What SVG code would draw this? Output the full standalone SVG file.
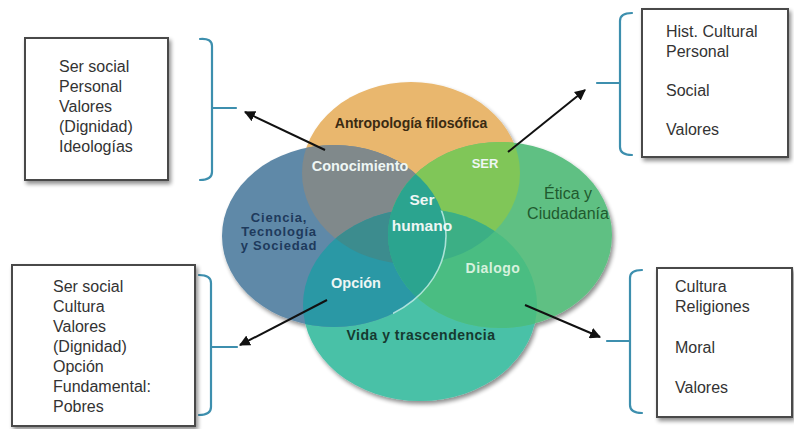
<svg xmlns="http://www.w3.org/2000/svg" width="794" height="429" viewBox="0 0 794 429">
<style>
.box{fill:#fff;stroke:#4a4a4a;stroke-width:2}
.bt{font-family:"Liberation Sans",Arial,sans-serif;font-size:16px;fill:#333}
.br{fill:none;stroke:#3d8fae;stroke-width:2.2;stroke-linecap:round}
.arr{fill:none;stroke:#111;stroke-width:2;marker-end:url(#ah)}
.vl{font-family:"Liberation Sans",Arial,sans-serif;font-weight:bold;text-anchor:middle}
.wh{fill:#eef6f4}
</style>
<defs>
<marker id="ah" viewBox="0 0 10 10" refX="9" refY="5" markerWidth="5.5" markerHeight="5.5" orient="auto-start-reverse" markerUnits="strokeWidth">
<path d="M0,0 L10,5 L0,10 z" fill="#111"/>
</marker>
<filter id="sh" x="-10%" y="-10%" width="130%" height="130%">
<feGaussianBlur in="SourceAlpha" stdDeviation="2"/>
<feOffset dx="2" dy="3" result="b"/>
<feComponentTransfer><feFuncA type="linear" slope="0.45"/></feComponentTransfer>
<feMerge><feMergeNode/><feMergeNode in="SourceGraphic"/></feMerge>
</filter>
<ellipse id="eO" cx="411" cy="173" rx="109" ry="91"/>
<ellipse id="eB" cx="334" cy="236" rx="112" ry="91"/>
<ellipse id="eG" cx="500" cy="235" rx="112" ry="93"/>
<ellipse id="eT" cx="420" cy="305" rx="117" ry="96"/>
<clipPath id="cO"><use href="#eO"/></clipPath>
<clipPath id="cB"><use href="#eB"/></clipPath>
<clipPath id="cG"><use href="#eG"/></clipPath>
<clipPath id="cT"><use href="#eT"/></clipPath>
<clipPath id="cR"><rect x="393" y="200" width="80" height="130"/></clipPath>
</defs>
<rect width="794" height="429" fill="#fff"/>

<g id="venn">
<g filter="url(#sh)">
<use href="#eT" fill="#49c1a7"/>
<use href="#eO" fill="#e9b76e"/>
<use href="#eB" fill="#5f89a8"/>
<use href="#eG" fill="#5fc083"/>
</g>
<g clip-path="url(#cO)">
<use href="#eB" fill="#80898b"/>
<use href="#eG" fill="#80c658"/>
</g>
<g clip-path="url(#cT)">
<use href="#eB" fill="#2a98a5"/>
<use href="#eG" fill="#4abd82"/>
</g>
<g clip-path="url(#cO)"><g clip-path="url(#cT)">
<use href="#eB" fill="#3c8c8e"/>
<use href="#eG" fill="#3caf85"/>
</g></g>
<g clip-path="url(#cB)"><use href="#eG" fill="#2ba48f"/></g>
<g clip-path="url(#cT)"><g clip-path="url(#cR)">
<use href="#eB" fill="none" stroke="#c8f0ea" stroke-width="1.6" opacity="0.8"/>
</g></g>
</g>

<g id="labels">
<text class="vl" x="411" y="128" font-size="14" fill="#3a2a12">Antropología filosófica</text>
<text class="vl wh" x="360" y="171" font-size="14.5">Conocimiento</text>
<text class="vl wh" x="485" y="168" font-size="13">SER</text>
<text class="vl wh" x="422" y="205" font-size="15.5">Ser</text>
<text class="vl wh" x="422" y="231" font-size="15.5">humano</text>
<text class="vl" x="279" y="222" font-size="13" fill="#1e3a5c" letter-spacing="0.8">Ciencia,</text>
<text class="vl" x="279" y="236" font-size="13" fill="#1e3a5c" letter-spacing="0.8">Tecnología</text>
<text class="vl" x="279" y="250" font-size="13" fill="#1e3a5c" letter-spacing="0.8">y Sociedad</text>
<text class="vl" x="568" y="199" font-size="16" fill="#1f5a2e" style="font-weight:normal">Ética y</text>
<text class="vl" x="568" y="219" font-size="16" fill="#1f5a2e" style="font-weight:normal">Ciudadanía</text>
<text class="vl wh" x="356" y="288" font-size="14.5">Opción</text>
<text class="vl" x="493" y="273" font-size="14" fill="#d6f1dd" letter-spacing="0.5">Dialogo</text>
<text class="vl" x="421" y="340" font-size="14" fill="#163a30" letter-spacing="0.5">Vida y trascendencia</text>
</g>

<g id="connectors">
<line class="arr" x1="325" y1="150" x2="245" y2="112"/>
<line class="arr" x1="508" y1="152" x2="585" y2="90"/>
<line class="arr" x1="327" y1="300" x2="240" y2="345"/>
<line class="arr" x1="525" y1="305" x2="600" y2="337"/>
<path class="br" d="M200,39 Q212,38 212,46 L212,172 Q212,180 200,180 M212,108 L236,108"/>
<path class="br" d="M632,13 Q620,13 620,21 L620,147 Q620,155 632,155 M620,83 L597,83"/>
<path class="br" d="M199,275 Q211,275 211,283 L211,407 Q211,415 199,415 M211,347 L237,347"/>
<path class="br" d="M642,270 Q630,270 630,278 L630,405 Q630,413 642,413 M630,341 L607,341"/>
</g>

<g id="box1">
<rect class="box" x="25" y="38" width="143" height="142" filter="url(#sh)"/>
<text class="bt" x="59" y="72">Ser social</text>
<text class="bt" x="59" y="92">Personal</text>
<text class="bt" x="59" y="112">Valores</text>
<text class="bt" x="59" y="132">(Dignidad)</text>
<text class="bt" x="59" y="152">Ideologías</text>
</g>
<g id="box2">
<rect class="box" x="642" y="9" width="146" height="148" filter="url(#sh)"/>
<text class="bt" x="666" y="37">Hist. Cultural</text>
<text class="bt" x="666" y="57">Personal</text>
<text class="bt" x="666" y="96">Social</text>
<text class="bt" x="666" y="135">Valores</text>
</g>
<g id="box3">
<rect class="box" x="12" y="265" width="183" height="161" filter="url(#sh)"/>
<text class="bt" x="53" y="292">Ser social</text>
<text class="bt" x="53" y="312">Cultura</text>
<text class="bt" x="53" y="332">Valores</text>
<text class="bt" x="53" y="352">(Dignidad)</text>
<text class="bt" x="53" y="372">Opción</text>
<text class="bt" x="53" y="392">Fundamental:</text>
<text class="bt" x="53" y="412">Pobres</text>
</g>
<g id="box4">
<rect class="box" x="657" y="268" width="135" height="149" filter="url(#sh)"/>
<text class="bt" x="675" y="292">Cultura</text>
<text class="bt" x="675" y="312">Religiones</text>
<text class="bt" x="675" y="353">Moral</text>
<text class="bt" x="675" y="393">Valores</text>
</g>
</svg>
